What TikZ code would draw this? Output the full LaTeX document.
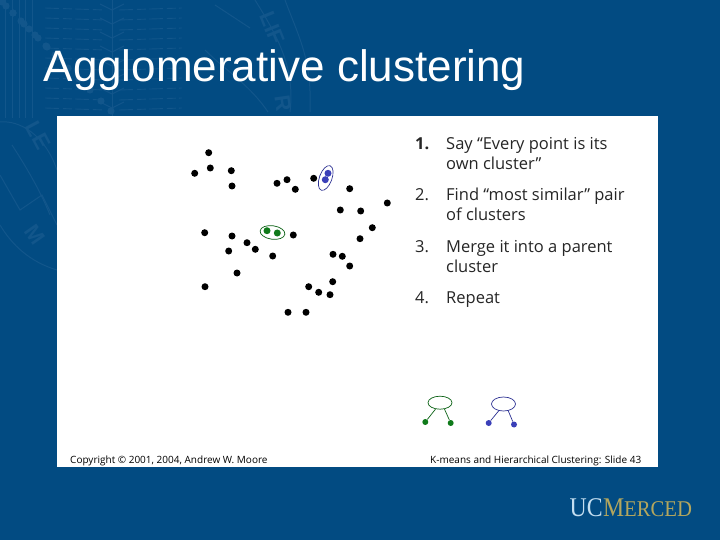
\documentclass[tikz,border=0pt]{standalone}
\usepackage{fontspec}
\setmainfont{Liberation Sans}
\newfontfamily\slidefont{Open Sans}
\newfontfamily\logofont{Liberation Serif}
\usetikzlibrary{shapes.geometric}
\definecolor{bgblue}{HTML}{024B82}
\definecolor{wm}{HTML}{12568B}
\definecolor{gdot}{HTML}{0F7A1A}
\definecolor{bdot}{HTML}{3A3FB8}
\definecolor{ucblue}{HTML}{C4DEF0}
\definecolor{ucgold}{HTML}{B3A65E}
\tikzset{
  wmline/.style={draw=wm,line width=1pt},
  wmdash/.style={draw=wm,line width=.9pt,dash pattern=on 14pt off 4pt on 9pt off 3pt},
  wmbead/.style={fill=wm,draw=none},
  wmtext/.style={text=wm,font=\bfseries\fontsize{22}{22}\selectfont,inner sep=0pt},
  pt/.style={circle,fill=black,draw=none,inner sep=0pt,minimum size=7pt},
  gpt/.style={circle,fill=gdot,draw=none,inner sep=0pt,minimum size=7pt},
  bpt/.style={circle,fill=bdot,draw=none,inner sep=0pt,minimum size=7pt},
  gring/.style={ellipse,draw=gdot!80!black,line width=.7pt,inner sep=0pt,fill=none},
  bring/.style={ellipse,draw=bdot!80!black,line width=.7pt,inner sep=0pt,fill=none},
  item/.style={anchor=base west,inner sep=0pt,text=black!85,font=\slidefont\fontsize{16.5}{16.5}\selectfont},
  foot/.style={anchor=base west,inner sep=0pt,text=black,font=\slidefont\fontsize{10}{10}\selectfont},
  branch/.style={line width=.7pt},
}
\begin{document}
\begin{tikzpicture}[x=1pt,y=-1pt]
\useasboundingbox (0,0) rectangle (720,540);
\fill[bgblue] (0,0) rectangle (720,540);
% watermark: columns
\foreach \x in {5,12,19,25,32}{\draw[wmline] (\x,0) -- (\x,118);}
% watermark: open book
\foreach \y in {8,18,...,108}{
  \draw[wmdash] (45,\y) -- (105,\y+2);
  \draw[wmdash] (119,\y+2) -- (182,\y);
}
\draw[wmline] (112,0) -- (112,116);
\foreach \y in {10,24,...,108}{
  \draw[wmline] (112,\y) -- (100,\y-6);
  \draw[wmline] (112,\y) -- (124,\y-6);
}
% watermark: seal rim and beads
\foreach \x/\y in {0,262, 6,265, 13,269, 21,273, 29,277, 38,280, 47,283, 55,285,
  309,2, 313,13, 316,24, 318,35, 320,46, 322,57, 323,68, 324,79, 324,90, 324,101, 323,111}{
  \fill[wmbead] (\x,\y) circle (3.6);
}
\draw[wmline] (0,225) .. controls (12,245) and (30,262) .. (57,270);
\draw[wmline] (0,122) .. controls (20,120) and (45,135) .. (57,170);
\draw[wmline] (12,145) .. controls (25,165) and (40,190) .. (50,215);
\draw[wmline] (0,175) -- (20,210) -- (42,195) -- (57,225);
\draw[wmline] (285,0) .. controls (300,40) and (312,60) .. (310,112);
\draw[wmline] (255,0) .. controls (280,40) and (295,70) .. (290,112);
\draw[wmline] (215,5) -- (250,28);
\draw[wmline] (205,50) .. controls (225,70) and (250,85) .. (268,112);
\node[wmtext,rotate=-62] (wmle) at (38,135) {LE};
\node[wmtext,rotate=-55] (wmm) at (35,235) {M};
\node[wmtext,rotate=-68] (wmlif) at (272,28) {LIF};
\node[wmtext,rotate=-82] (wmr) at (283,103) {R};
% white slide
\fill[white] (57,116) rectangle (658,467);
% title
\node[anchor=base west,inner sep=0pt,text=white,font=\fontsize{44}{44}\selectfont] (title) at (43.5,82) {Agglomerative clustering};
% black points
\foreach \n/\x/\y in {a/208.7/152.7,b/210.3/168,c/194.7/173.3,d/231.3/170.7,e/232/186,
 f/277/183.3,g/287/179.7,h/295.3/189.3,i/313.7/178.3,j/349.7/188.7,k/387.3/203,
 l/340.3/210,m/360.7/211,n/372.3/227.7,o/360/238.7,p/204.7/232.7,q/232/236,
 r/247/242.7,s/255.3/249.3,t/228.7/251,u/272.7/256,v/293.3/235,w/237/273,
 x/205/286.7,y/333/254.3,z/342.3/256.3,aa/349.7/266,ab/332.7/281.7,ac/308.7/286.7,
 ad/318.7/292.3,ae/330/294.7,af/288/312.3,ag/306/312.3}{
  \node[pt] (\n) at (\x,\y) {};
}
% first merged pairs
\node[gpt] (g1) at (267,230.7) {};
\node[gpt] (g2) at (277.3,233) {};
\node[bpt] (b1) at (328,173.3) {};
\node[bpt] (b2) at (325.3,179.7) {};
\node[gring,minimum width=25pt,minimum height=13.5pt,rotate=-8] (gc) at (272.5,232.5) {};
\node[bring,minimum width=26pt,minimum height=12.5pt,rotate=70] (bc) at (325.7,178) {};
% list
\node[item,font=\slidefont\bfseries\fontsize{16.5}{16.5}\selectfont] (n1) at (415,150) {1.};
\node[item] (t1a) at (446,150) {Say “Every point is its};
\node[item] (t1b) at (446,170) {own cluster”};
\node[item] (n2) at (415,201) {2.};
\node[item] (t2a) at (446,201) {Find “most similar” pair};
\node[item] (t2b) at (446,221) {of clusters};
\node[item] (n3) at (415,252.7) {3.};
\node[item] (t3a) at (446,252.7) {Merge it into a parent};
\node[item] (t3b) at (446,272.7) {cluster};
\node[item] (n4) at (415,303) {4.};
\node[item] (t4) at (446,303) {Repeat};
% small trees
\node[gring,minimum width=24pt,minimum height=13pt] (gp) at (440,402.7) {};
\node[gpt,minimum size=6pt] (gl) at (425.3,422) {};
\node[gpt,minimum size=6pt] (gr) at (450.7,423) {};
\draw[branch,gdot!80!black] (gp.-125) -- (gl);
\draw[branch,gdot!80!black] (gp.-55) -- (gr);
\node[bring,minimum width=24pt,minimum height=14pt] (bp) at (503.5,404) {};
\node[bpt,minimum size=6pt] (bl) at (488.7,423) {};
\node[bpt,minimum size=6pt] (br) at (514,424.5) {};
\draw[branch,bdot!80!black] (bp.-125) -- (bl);
\draw[branch,bdot!80!black] (bp.-55) -- (br);
% footer
\node[foot] (fl) at (70,463.5) {Copyright © 2001, 2004, Andrew W. Moore};
\node[foot] (fr) at (430,463.5) {K-means and Hierarchical Clustering: Slide 43};
% logo
\node[anchor=base west,inner sep=0pt,text=ucblue,font=\logofont\fontsize{27}{27}\selectfont,xscale=.88] (uc) at (569.5,516.5) {UC};
\node[anchor=base west,inner sep=0pt,text=ucgold,font=\logofont\fontsize{27}{27}\selectfont,xscale=.88] (mm) at (603,516.5) {M};
\node[anchor=base west,inner sep=0pt,text=ucgold,font=\logofont\fontsize{22.5}{22.5}\selectfont,xscale=.92] (erced) at (624,516.5) {ERCED};
\end{tikzpicture}
\end{document}
